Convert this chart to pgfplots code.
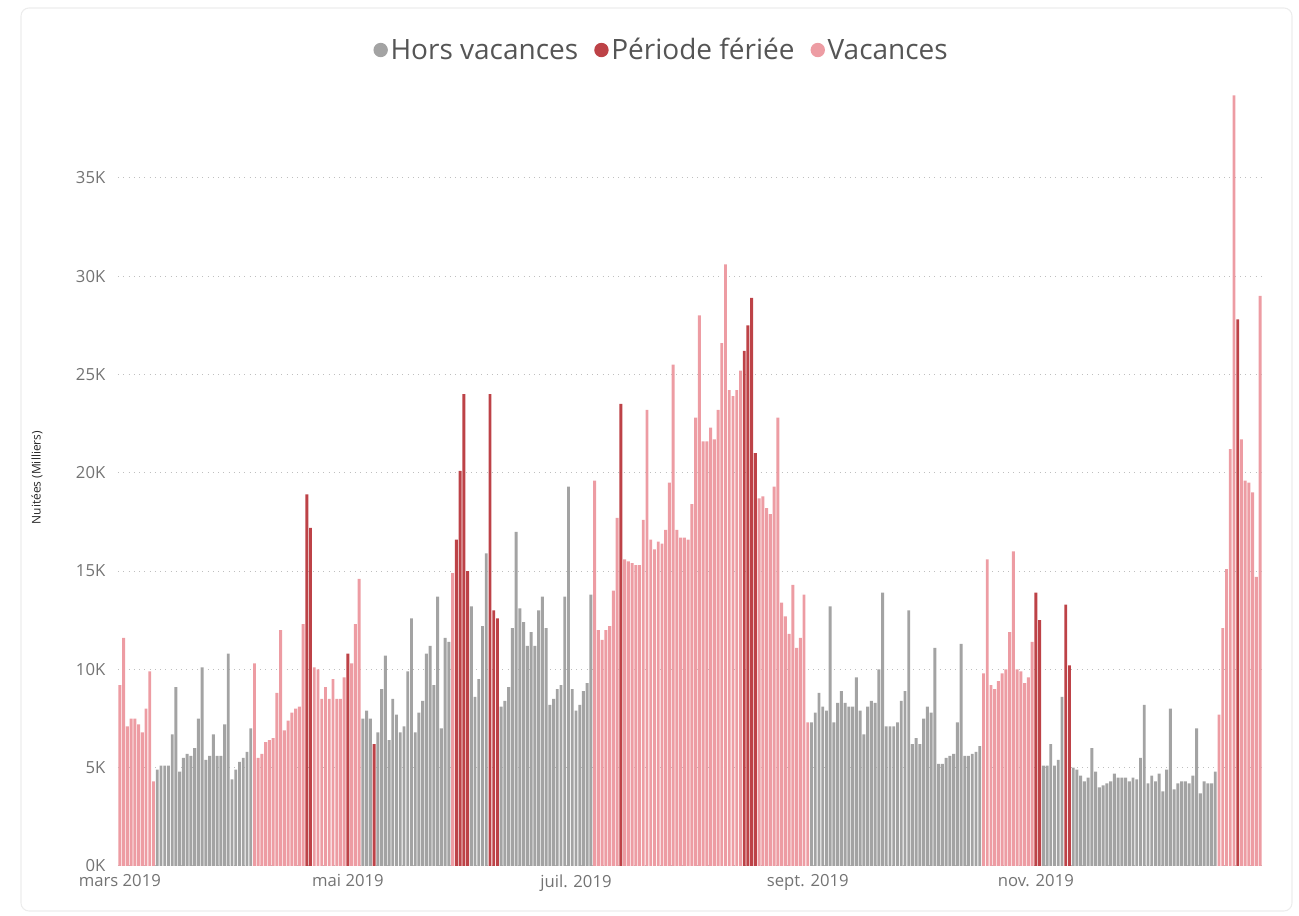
\documentclass[border=0pt]{standalone}
\usepackage{pgfplots}
\pgfplotsset{compat=1.18}
\usepackage{fontspec}
\setmainfont{Open Sans}
\definecolor{hors}{HTML}{A3A3A3}
\definecolor{ferie}{HTML}{BD4247}
\definecolor{vac}{HTML}{ED9CA3}
\definecolor{txt}{HTML}{737373}
\definecolor{legtxt}{HTML}{555555}
\begin{document}
\begin{tikzpicture}
\begin{axis}[
  name=a,
  scale only axis,
  width=858pt, height=582.45pt,
  xmin=-0.5, xmax=305.5,
  ymin=0, ymax=39.5,
  ybar, bar width=0.78,
  axis line style={draw=none},
  major tick length=0pt,
  xtick={0,61,122,184,245},
  xticklabels={mars 2019, mai 2019, juil. 2019, sept. 2019, nov. 2019},
  ytick={0,5,...,35},
  yticklabels={0K,5K,10K,15K,20K,25K,30K,35K},
  ymajorgrids,
  major grid style={gray!50, line width=0.75pt, dash pattern=on 0.75pt off 3.2pt},
  tick label style={font=\fontsize{12.5}{14}\selectfont, text=txt},
  yticklabel style={xshift=-6pt},
  xticklabel style={yshift=-3pt},
  ylabel={Nuitées (Milliers)},
  ylabel style={at={(axis description cs:-0.0708,0.5)}, anchor=center, font=\fontsize{9}{10}\selectfont, text=black!85},
  legend columns=3,
  legend style={at={(rel axis cs:0.4755,1.0507)}, anchor=center, draw=none, fill=none,
    font=\fontsize{21}{24}\selectfont, text=legtxt,
    nodes={inner sep=2pt},
    /tikz/every even column/.append style={column sep=10pt}},
]
\addplot[fill=hors, draw=none, bar shift=0pt,
  legend image code/.code={\fill[hors] (0pt,0pt) circle (5.4pt);}] coordinates {
(10,4.9)(11,5.1)(12,5.1)(13,5.1)(14,6.7)(15,9.1)(16,4.8)(17,5.5)(18,5.7)(19,5.6)(20,6.0)(21,7.5)(22,10.1)(23,5.4)(24,5.6)(25,6.7)(26,5.6)(27,5.6)(28,7.2)(29,10.8)(30,4.4)(31,4.9)(32,5.3)(33,5.5)(34,5.8)(35,7.0)
(65,7.5)(66,7.9)(67,7.5)(69,6.8)(70,9.0)(71,10.7)(72,6.4)(73,8.5)(74,7.7)(75,6.8)(76,7.1)(77,9.9)(78,12.6)(79,6.8)(80,7.8)(81,8.4)(82,10.8)(83,11.2)(84,9.2)(85,13.7)(86,7.0)(87,11.6)(88,11.4)
(94,13.2)(95,8.6)(96,9.5)(97,12.2)(98,15.9)
(102,8.1)(103,8.4)(104,9.1)(105,12.1)(106,17.0)(107,13.1)(108,12.4)(109,11.2)(110,11.9)(111,11.2)(112,13.0)(113,13.7)(114,12.1)(115,8.2)(116,8.5)(117,9.0)(118,9.2)(119,13.7)(120,19.3)(121,9.0)(122,7.9)(123,8.2)(124,8.9)(125,9.3)(126,13.8)
(185,7.3)(186,7.8)(187,8.8)(188,8.1)(189,7.9)(190,13.2)(191,7.3)(192,8.3)(193,8.9)(194,8.3)(195,8.1)(196,8.1)(197,9.6)(198,7.9)(199,6.7)(200,8.1)(201,8.4)(202,8.3)(203,10.0)(204,13.9)(205,7.1)(206,7.1)(207,7.1)(208,7.3)(209,8.4)(210,8.9)(211,13.0)(212,6.2)(213,6.5)(214,6.2)(215,7.5)(216,8.1)(217,7.8)(218,11.1)(219,5.2)(220,5.2)(221,5.5)(222,5.6)(223,5.7)(224,7.3)(225,11.3)(226,5.6)(227,5.6)(228,5.7)(229,5.8)(230,6.1)
(247,5.1)(248,5.1)(249,6.2)(250,5.1)(251,5.4)(252,8.6)(255,5.0)(256,4.9)(257,4.6)(258,4.3)(259,4.5)(260,6.0)(261,4.8)(262,4.0)(263,4.1)(264,4.2)(265,4.3)(266,4.7)(267,4.5)(268,4.5)(269,4.5)(270,4.3)(271,4.5)(272,4.4)(273,5.5)(274,8.2)(275,4.2)(276,4.6)(277,4.3)(278,4.7)(279,3.8)(280,4.9)(281,8.0)(282,3.9)(283,4.2)(284,4.3)(285,4.3)(286,4.2)(287,4.6)(288,7.0)(289,3.7)(290,4.3)(291,4.2)(292,4.2)(293,4.8)
};
\addlegendentry{Hors vacances}
\addplot[fill=ferie, draw=none, bar shift=0pt,
  legend image code/.code={\fill[ferie] (0pt,0pt) circle (5.4pt);}] coordinates {
(50,18.9)(51,17.2)(61,10.8)(68,6.2)(90,16.6)(91,20.1)(92,24.0)(93,15.0)(99,24.0)(100,13.0)(101,12.6)(134,23.5)(167,26.2)(168,27.5)(169,28.9)(170,21.0)(245,13.9)(246,12.5)(253,13.3)(254,10.2)(299,27.8)
};
\addlegendentry{Période fériée}
\addplot[fill=vac, draw=none, bar shift=0pt,
  legend image code/.code={\fill[vac] (0pt,0pt) circle (5.4pt);}] coordinates {
(0,9.2)(1,11.6)(2,7.1)(3,7.5)(4,7.5)(5,7.2)(6,6.8)(7,8.0)(8,9.9)(9,4.3)
(36,10.3)(37,5.5)(38,5.7)(39,6.3)(40,6.4)(41,6.5)(42,8.8)(43,12.0)(44,6.9)(45,7.4)(46,7.8)(47,8.0)(48,8.1)(49,12.3)(52,10.1)(53,10.0)(54,8.5)(55,9.1)(56,8.5)(57,9.5)(58,8.5)(59,8.5)(60,9.6)(62,10.3)(63,12.3)(64,14.6)
(89,14.9)
(127,19.6)(128,12.0)(129,11.5)(130,12.0)(131,12.2)(132,14.0)(133,17.7)(135,15.6)(136,15.5)(137,15.4)(138,15.3)(139,15.3)(140,17.6)(141,23.2)(142,16.6)(143,16.1)(144,16.5)(145,16.4)(146,17.1)(147,19.5)(148,25.5)(149,17.1)(150,16.7)(151,16.7)(152,16.6)(153,18.4)(154,22.8)(155,28.0)(156,21.6)(157,21.6)(158,22.3)(159,21.7)(160,23.2)(161,26.6)(162,30.6)(163,24.2)(164,23.9)(165,24.2)(166,25.2)(171,18.7)(172,18.8)(173,18.2)(174,17.9)(175,19.3)(176,22.8)(177,13.4)(178,12.7)(179,11.8)(180,14.3)(181,11.1)(182,11.6)(183,13.8)(184,7.3)
(231,9.8)(232,15.6)(233,9.2)(234,9.0)(235,9.4)(236,9.8)(237,10.0)(238,11.9)(239,16.0)(240,10.0)(241,9.9)(242,9.3)(243,9.6)(244,11.4)
(294,7.7)(295,12.1)(296,15.1)(297,21.2)(298,39.2)(300,21.7)(301,19.6)(302,19.5)(303,19.0)(304,14.7)(305,29.0)
};
\addlegendentry{Vacances}
\end{axis}
\draw[gray!15, rounded corners=6pt, line width=0.8pt] ([xshift=-72.75pt,yshift=643.5pt]a.south west) rectangle ([xshift=880.5pt,yshift=-33.75pt]a.south west);
\pgfresetboundingbox
\path[use as bounding box] ([xshift=-88.5pt,yshift=-37.5pt]a.south west) rectangle ([xshift=27.75pt,yshift=67.05pt]a.north east);
\end{tikzpicture}
\end{document}
